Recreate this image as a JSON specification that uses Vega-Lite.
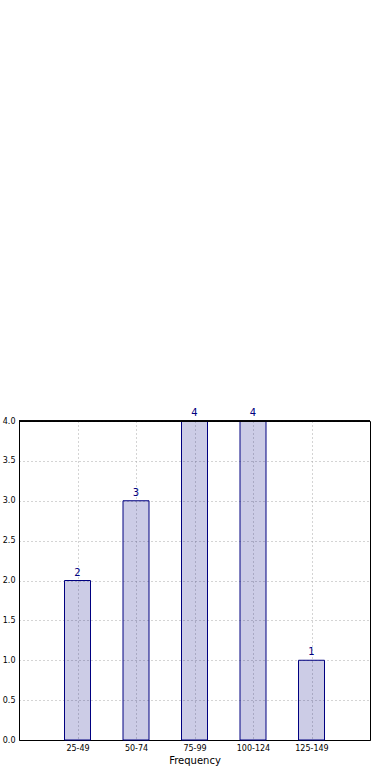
{
  "$schema": "https://vega.github.io/schema/vega-lite/v6.json",
  "autosize": {"type": "none"},
  "width": 351,
  "height": 319,
  "padding": {"left": 19, "top": 421, "right": 20, "bottom": 40},
  "background": "white",
  "data": {"values": [
    {"bin": "25-49", "count": 2},
    {"bin": "50-74", "count": 3},
    {"bin": "75-99", "count": 4},
    {"bin": "100-124", "count": 4},
    {"bin": "125-149", "count": 1}
  ]},
  "config": {
    "font": "DejaVu Sans",
    "view": {"stroke": "black", "strokeWidth": 1},
    "axis": {
      "gridColor": "#a8a8a8",
      "gridDash": [1, 3],
      "gridWidth": 1,
      "gridOpacity": 1,
      "domain": false,
      "ticks": false,
      "labelColor": "black",
      "labelFont": "DejaVu Sans",
      "labelFontSize": 8,
      "titleFont": "DejaVu Sans"
    }
  },
  "encoding": {
    "x": {
      "field": "bin",
      "type": "ordinal",
      "sort": null,
      "scale": {"type": "point", "padding": 1},
      "axis": {"title": "Frequency", "titleFontSize": 10, "titleFontWeight": "normal", "titleColor": "black", "titlePadding": 3, "labelAngle": 0, "labelPadding": 4, "grid": true, "domain": true, "domainColor": "black", "domainWidth": 1}
    },
    "y": {
      "field": "count",
      "type": "quantitative",
      "scale": {"domain": [0, 4], "nice": false},
      "axis": {"title": null, "values": [0, 0.5, 1, 1.5, 2, 2.5, 3, 3.5, 4], "format": ".1f", "labelPadding": 4, "grid": true, "labelBaseline": "middle", "domain": true, "domainColor": "black", "domainWidth": 1}
    }
  },
  "layer": [
    {
      "mark": {"type": "bar", "size": 26, "fill": "navy", "fillOpacity": 0.2, "stroke": "navy", "strokeWidth": 1}
    },
    {
      "mark": {"type": "text", "color": "navy", "fontSize": 10, "dy": -5, "baseline": "alphabetic"},
      "encoding": {"text": {"field": "count", "type": "quantitative"}}
    },
    {
      "mark": {"type": "rule", "color": "black", "strokeWidth": 1},
      "encoding": {"y": {"datum": 4}, "x": {}}
    }
  ]
}
